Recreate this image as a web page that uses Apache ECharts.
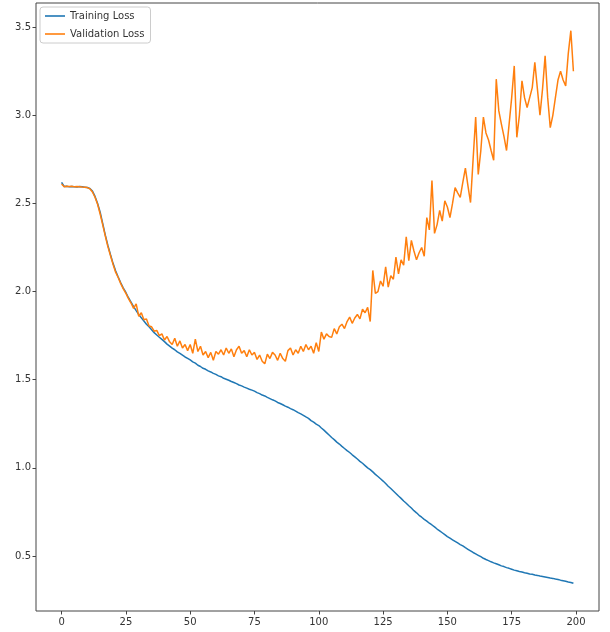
<!DOCTYPE html>
<html>
<head>
<meta charset="utf-8">
<script src="https://cdn.jsdelivr.net/npm/echarts@6/dist/echarts.min.js"></script>
<style>
html,body{margin:0;padding:0;background:#fff;}
#chart{width:610px;height:632px;}
</style>
</head>
<body>
<div id="chart"></div>
<script>
var seriesNames = ['Training Loss', 'Validation Loss'];
var xTicks = [0, 25, 50, 75, 100, 125, 150, 175, 200];
var yTicks = [0.5, 1.0, 1.5, 2.0, 2.5, 3.0, 3.5];

var trainingLoss = [
  2.620, 2.596, 2.597, 2.594, 2.596, 2.595, 2.593, 2.596, 2.594, 2.592,
  2.590, 2.585, 2.570, 2.540, 2.500, 2.450, 2.385, 2.320, 2.262, 2.210,
  2.160, 2.118, 2.083, 2.050, 2.020, 1.995, 1.965, 1.940, 1.915, 1.892,
  1.870, 1.851, 1.833, 1.815, 1.800, 1.784, 1.767, 1.754, 1.741, 1.729,
  1.716, 1.702, 1.691, 1.679, 1.670, 1.658, 1.649, 1.639, 1.629, 1.621,
  1.612, 1.601, 1.594, 1.582, 1.575, 1.565, 1.559, 1.550, 1.544, 1.536,
  1.530, 1.522, 1.517, 1.508, 1.503, 1.497, 1.490, 1.484, 1.478, 1.470,
  1.465, 1.458, 1.452, 1.446, 1.441, 1.435, 1.427, 1.421, 1.413, 1.408,
  1.400, 1.393, 1.386, 1.380, 1.371, 1.365, 1.358, 1.350, 1.344, 1.336,
  1.330, 1.322, 1.313, 1.306, 1.298, 1.289, 1.281, 1.268, 1.259, 1.248,
  1.240, 1.226, 1.214, 1.200, 1.186, 1.172, 1.160, 1.146, 1.135, 1.122,
  1.110, 1.098, 1.087, 1.074, 1.062, 1.050, 1.037, 1.026, 1.013, 1.000,
  0.990, 0.977, 0.963, 0.951, 0.938, 0.925, 0.911, 0.896, 0.883, 0.869,
  0.855, 0.840, 0.827, 0.812, 0.799, 0.785, 0.772, 0.757, 0.745, 0.731,
  0.720, 0.708, 0.698, 0.686, 0.676, 0.665, 0.653, 0.643, 0.632, 0.621,
  0.610, 0.601, 0.592, 0.583, 0.574, 0.565, 0.557, 0.547, 0.538, 0.529,
  0.520, 0.512, 0.504, 0.496, 0.487, 0.480, 0.474, 0.467, 0.461, 0.456,
  0.450, 0.444, 0.440, 0.434, 0.430, 0.425, 0.420, 0.416, 0.412, 0.409,
  0.405, 0.402, 0.398, 0.396, 0.392, 0.390, 0.386, 0.384, 0.381, 0.378,
  0.375, 0.373, 0.369, 0.367, 0.363, 0.360, 0.357, 0.353, 0.350, 0.345
];

var validationLoss = [
  2.610, 2.595, 2.598, 2.596, 2.597, 2.594, 2.596, 2.595, 2.593, 2.592,
  2.590, 2.583, 2.565, 2.535, 2.495, 2.440, 2.378, 2.315, 2.255, 2.205,
  2.155, 2.110, 2.080, 2.045, 2.015, 1.990, 1.960, 1.935, 1.905, 1.930,
  1.860, 1.880, 1.840, 1.845, 1.805, 1.800, 1.775, 1.780, 1.750, 1.760,
  1.725, 1.745, 1.715, 1.700, 1.735, 1.690, 1.720, 1.680, 1.700, 1.665,
  1.700, 1.650, 1.730, 1.660, 1.690, 1.640, 1.660, 1.625, 1.655, 1.610,
  1.660, 1.645, 1.670, 1.640, 1.680, 1.650, 1.675, 1.630, 1.670, 1.690,
  1.650, 1.665, 1.630, 1.670, 1.640, 1.655, 1.615, 1.640, 1.605, 1.590,
  1.645, 1.620, 1.655, 1.640, 1.610, 1.650, 1.620, 1.605, 1.665, 1.680,
  1.640, 1.670, 1.650, 1.690, 1.660, 1.700, 1.670, 1.690, 1.650, 1.710,
  1.660, 1.770, 1.730, 1.760, 1.745, 1.740, 1.790, 1.760, 1.800, 1.815,
  1.790, 1.830, 1.855, 1.820, 1.850, 1.870, 1.845, 1.900, 1.880, 1.910,
  1.830, 2.120, 1.990, 2.000, 2.060, 2.030, 2.140, 2.025, 2.090, 2.070,
  2.195, 2.100, 2.180, 2.150, 2.310, 2.176, 2.290, 2.230, 2.180, 2.220,
  2.250, 2.200, 2.420, 2.350, 2.630, 2.330, 2.380, 2.460, 2.400, 2.515,
  2.480, 2.420, 2.500, 2.590, 2.560, 2.535, 2.620, 2.700, 2.600, 2.505,
  2.750, 2.990, 2.665, 2.800, 2.990, 2.900, 2.860, 2.800, 2.745, 3.205,
  3.025, 2.950, 2.880, 2.800, 2.950, 3.100, 3.280, 2.875, 3.000, 3.196,
  3.100, 3.044, 3.100, 3.157, 3.300, 3.150, 3.000, 3.150, 3.337, 3.100,
  2.930, 3.000, 3.100, 3.200, 3.250, 3.200, 3.167, 3.350, 3.480, 3.250
];

function toPairs(arr) {
  return arr.map(function (v, i) { return [i, v]; });
}

var chart = echarts.init(document.getElementById('chart'), null, {renderer: 'canvas'});
var font = 'DejaVu Sans';
chart.setOption({
  animation: false,
  backgroundColor: '#ffffff',
  grid: {
    left: 36, right: 11, top: 3, bottom: 21,
    show: true, borderColor: '#444', borderWidth: 1, backgroundColor: 'transparent'
  },
  legend: {
    left: 40, top: 7,
    orient: 'vertical',
    data: seriesNames,
    icon: 'rect',
    itemWidth: 20, itemHeight: 1.6,
    itemGap: 6, itemTextGap: 10,
    padding: [3, 6, 3, 5],
    borderColor: '#cccccc', borderWidth: 1, borderRadius: 3,
    backgroundColor: '#ffffff',
    textStyle: {fontFamily: font, fontSize: 10, color: '#333', lineHeight: 12}
  },
  xAxis: {
    type: 'value',
    min: -9.95, max: 208.95,
    splitLine: {show: false},
    axisLine: {show: false, onZero: false},
    axisTick: {show: true, length: 3.5, lineStyle: {color: '#444'}, customValues: xTicks},
    axisLabel: {
      customValues: xTicks, margin: 6,
      fontFamily: font, fontSize: 10, color: '#333',
      formatter: function (v) { return String(v); }
    }
  },
  yAxis: {
    type: 'value',
    min: 0.188, max: 3.637,
    splitLine: {show: false},
    axisLine: {show: false, onZero: false},
    axisTick: {show: true, length: 3.5, lineStyle: {color: '#444'}, customValues: yTicks},
    axisLabel: {
      customValues: yTicks, margin: 5,
      fontFamily: font, fontSize: 10, color: '#333',
      formatter: function (v) { return Number(v).toFixed(1); }
    }
  },
  series: [
    {
      name: seriesNames[0], type: 'line', data: toPairs(trainingLoss),
      symbol: 'none', color: '#1f77b4',
      lineStyle: {width: 1.5, color: '#1f77b4'}
    },
    {
      name: seriesNames[1], type: 'line', data: toPairs(validationLoss),
      symbol: 'none', color: '#ff7f0e',
      lineStyle: {width: 1.5, color: '#ff7f0e'}
    }
  ]
});
</script>
</body>
</html>
